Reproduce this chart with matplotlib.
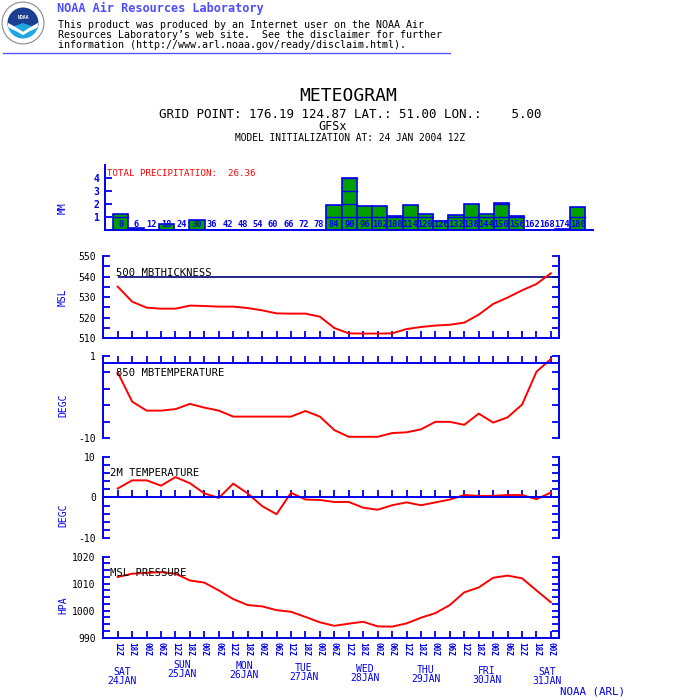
import numpy as np
import matplotlib.pyplot as plt
from matplotlib.patches import Circle, Wedge, Polygon

# ---- data ----
hours = list(range(0, 181, 6))
precip = [1.2, 0.15, 0, 0.45, 0, 0.75, 0, 0, 0, 0, 0, 0, 0, 0,
          1.9, 4.02, 1.82, 1.82, 1.05, 1.9, 1.23, 0.67, 1.13, 2.0,
          1.23, 2.05, 1.05, 0, 0, 0.1, 1.75]
thick = [535.1, 527.8, 524.9, 524.4, 524.4, 525.9, 525.7, 525.4, 525.4, 524.7,
         523.6, 522.1, 522.0, 522.0, 520.5, 515.0, 512.4, 512.3, 512.3, 512.4,
         514.5, 515.5, 516.2, 516.6, 517.6, 521.5, 526.7, 529.8, 533.3, 536.4, 541.6]
t850 = [-1.2, -5.1, -6.3, -6.3, -6.1, -5.4, -5.9, -6.3, -7.1, -7.1,
        -7.1, -7.1, -7.1, -6.35, -7.1, -8.9, -9.8, -9.8, -9.8, -9.3,
        -9.2, -8.8, -7.8, -7.8, -8.2, -6.7, -7.9, -7.2, -5.5, -1.1, 0.6]
t2m = [2.2, 4.2, 4.2, 2.9, 5.0, 3.5, 1.0, -0.1, 3.4, 1.0,
       -2.1, -4.1, 1.15, -0.5, -0.6, -1.1, -1.1, -2.5, -3.0, -1.9,
       -1.2, -1.9, -1.2, -0.5, 0.6, 0.4, 0.4, 0.6, 0.6, -0.4, 1.2]
mslp = [1012.5, 1013.7, 1014.0, 1014.3, 1013.7, 1011.2, 1010.4, 1007.5, 1004.3, 1002.1,
        1001.6, 1000.2, 999.6, 997.7, 995.7, 994.4, 995.2, 995.9, 994.2, 994.1,
        995.3, 997.4, 999.1, 1002.1, 1006.8, 1008.6, 1012.2, 1013.0, 1012.0, 1007.5, 1003.1]
time_labels = (['12Z', '18Z', '00Z', '06Z'] * 8)[:31]
day_labels = ['SAT\n24JAN', 'SUN\n25JAN', 'MON\n26JAN', 'TUE\n27JAN',
              'WED\n28JAN', 'THU\n29JAN', 'FRI\n30JAN', 'SAT\n31JAN']
total_precip = 26.36

BLUE = '#0000ee'
RED = '#ff0000'
GREEN = '#00a000'
W, H = 700.0, 700.0
TICK = 5.0

plt.rcParams['font.family'] = ['DejaVu Sans Mono']

fig = plt.figure(figsize=(7, 7), dpi=100)
fig.patch.set_facecolor('white')


def px_axes(x0, y0, x1, y1):
    return fig.add_axes([x0 / W, 1 - y1 / H, (x1 - x0) / W, (y1 - y0) / H])


def ptext(x, y, s, **kw):
    return fig.text(x / W, 1 - y / H, s, **kw)


# ---- header ----
logo = px_axes(1, 1, 45, 45)
logo.set_xlim(-1.05, 1.05)
logo.set_ylim(-1.05, 1.05)
logo.set_aspect('equal')
logo.axis('off')
logo.add_patch(Circle((0, 0), 1.0, facecolor='white', edgecolor='#8a8a8a', lw=0.8))
logo.add_patch(Wedge((0, 0), 0.74, 0, 180, facecolor='#1c3f94'))
logo.add_patch(Wedge((0, 0), 0.74, 180, 360, facecolor='#1ea7e1'))
logo.add_patch(Wedge((0, 0), 0.74, -20, 0, facecolor='#1c3f94'))
logo.add_patch(Wedge((0, 0), 0.74, 180, 200, facecolor='#1c3f94'))
logo.add_patch(Polygon([(-0.74, 0.02), (-0.35, -0.2), (0.0, -0.42), (0.35, -0.2),
                        (0.74, 0.02), (0.7, -0.22), (0.3, -0.4), (0.0, -0.58),
                        (-0.3, -0.4), (-0.7, -0.22)], closed=True,
                       facecolor='white', edgecolor='none'))
logo.text(0, 0.28, 'NOAA', color='white', fontsize=3.5, ha='center', va='center',
          fontweight='bold')

ptext(57, 8, 'NOAA Air Resources Laboratory', color='#4d4dff', fontsize=8.6,
      fontweight='bold', va='center')
disclaimer = ["This product was produced by an Internet user on the NOAA Air",
              "Resources Laboratory\u2019s web site.  See the disclaimer for further",
              "information (http://www.arl.noaa.gov/ready/disclaim.html)."]
for k, line in enumerate(disclaimer):
    ptext(58, 25 + 10 * k, line, color='black', fontsize=7.2, va='center')
fig.add_artist(plt.Line2D([3 / W, 450 / W], [1 - 53 / H, 1 - 53 / H],
                          color='#5555ff', lw=1))

# ---- titles ----
ptext(348, 96, 'METEOGRAM', fontsize=13, ha='center', va='center')
ptext(350, 114, 'GRID POINT: 176.19 124.87 LAT.: 51.00 LON.:    5.00',
      fontsize=9, ha='center', va='center')
ptext(333, 127, 'GFSx', fontsize=8.5, ha='center', va='center')
ptext(350, 138, 'MODEL INITIALIZATION AT: 24 JAN 2004 12Z', fontsize=6.9,
      ha='center', va='center')

# ---- precipitation panel ----
axp = px_axes(105, 165, 593, 230)
x = np.arange(len(precip))
axp.bar(x, precip, width=1.0, color=GREEN, edgecolor=BLUE, linewidth=1.2, zorder=2)
for i, v in enumerate(precip):
    for k in range(1, int(np.ceil(v))):
        axp.plot([i - 0.5, i + 0.5], [k, k], color=BLUE, lw=1.0, zorder=3)
    axp.text(i, 0.05, str(hours[i]), ha='center', va='bottom', fontsize=6.2,
             color=BLUE, fontweight='bold', zorder=4)
axp.set_xlim(-1.04, 31.0)
axp.set_ylim(0, 5)
axp.spines['top'].set_visible(False)
axp.spines['right'].set_visible(False)
for s in ['left', 'bottom']:
    axp.spines[s].set_color(BLUE)
    axp.spines[s].set_linewidth(1.4)
axp.set_xticks([])
axp.set_yticks([1, 2, 3, 4])
axp.tick_params(axis='y', direction='in', length=TICK, width=1.3, color=BLUE,
                labelcolor=BLUE, labelsize=7, pad=4)
for lab in axp.get_yticklabels():
    lab.set_fontweight('bold')
axp.set_facecolor('none')
ptext(107, 173, 'TOTAL PRECIPITATION:  %.2f' % total_precip, color=RED,
      fontsize=6.6, va='center')
ptext(63, 208, 'MM', color=BLUE, fontsize=7, rotation=90, ha='center', va='center')


# ---- line panels ----
def setup(ax, ylim, yticks, ylabels, minor=None, base=None):
    ax.set_xlim(-1.04, 30.56)
    ax.set_ylim(*ylim)
    ax.spines['top'].set_visible(False)
    for s in ['left', 'right', 'bottom']:
        ax.spines[s].set_color(BLUE)
        ax.spines[s].set_linewidth(1.4)
    if base is not None:
        ax.spines['bottom'].set_position(('data', base))
    ax.set_xticks(range(31))
    ax.set_xticklabels([])
    ax.set_yticks(yticks)
    ax.set_yticklabels(ylabels)
    if minor is not None:
        ax.set_yticks(minor, minor=True)
    ax.tick_params(axis='both', which='both', direction='in', length=TICK,
                   width=1.3, color=BLUE, right=True)
    ax.tick_params(axis='y', labelsize=7, labelcolor='black', pad=5)
    ax.set_facecolor('none')


xs = np.arange(31)

ax1 = px_axes(102.7, 256, 559, 338.3)
setup(ax1, (510, 550), [510, 520, 530, 540, 550], ['510', '520', '530', '540', '550'],
      minor=[515, 525, 535, 545])
ax1.hlines(540, 0, 30.56, color='#00007a', lw=1.2)
ax1.plot(xs, thick, color=RED, lw=1.4)
ptext(116, 273, '500 MBTHICKNESS', fontsize=7.6, va='center')
ptext(63, 297, 'MSL', color=BLUE, fontsize=7, rotation=90, ha='center', va='center')

ax2 = px_axes(102.7, 356, 559, 438.3)
setup(ax2, (-10, 1), np.linspace(1, -10, 6), ['1', '', '', '', '', '-10'], base=0)
ax2.plot(xs, t850, color=RED, lw=1.4)
ptext(116, 373, '850 MBTEMPERATURE', fontsize=7.6, va='center')
ptext(63, 405, 'DEGC', color=BLUE, fontsize=7, rotation=90, ha='center', va='center')

ax3 = px_axes(102.7, 456.7, 559, 538.3)
setup(ax3, (-10, 10), np.arange(-10, 11, 2),
      ['-10', '', '', '', '', '0', '', '', '', '', '10'], base=0)
ax3.plot(xs, t2m, color=RED, lw=1.4)
ptext(110, 473, '2M TEMPERATURE', fontsize=7.6, va='center')
ptext(63, 515, 'DEGC', color=BLUE, fontsize=7, rotation=90, ha='center', va='center')

ax4 = px_axes(102.7, 556.7, 559, 637.7)
setup(ax4, (990, 1020), [990, 1000, 1010, 1020], ['990', '1000', '1010', '1020'],
      minor=[992.5, 995, 997.5, 1002.5, 1005, 1007.5, 1012.5, 1015, 1017.5])
ax4.plot(xs, mslp, color=RED, lw=1.4)
ax4.set_xticklabels(time_labels, rotation=270, color=BLUE, fontsize=5.6,
                    fontweight='bold')
ax4.tick_params(axis='x', pad=3)
ptext(110, 573, 'MSL PRESSURE', fontsize=7.6, va='center')
ptext(63, 605, 'HPA', color=BLUE, fontsize=7, rotation=90, ha='center', va='center')

# day labels under the time axis
day_x = [121.7, 182.3, 244.0, 304.0, 365.0, 425.7, 486.7, 547.3]
day_y = [676.5, 669.5, 670.5, 672.5, 673.5, 674.5, 675.5, 676.5]
for lab, dx, dy in zip(day_labels, day_x, day_y):
    ptext(dx, dy, lab, color=BLUE, fontsize=7, ha='center', va='center',
          linespacing=0.95)

ptext(592, 692, 'NOAA (ARL)', color=BLUE, fontsize=7.8, ha='center', va='center')

fig.savefig('out.png', dpi=100)
